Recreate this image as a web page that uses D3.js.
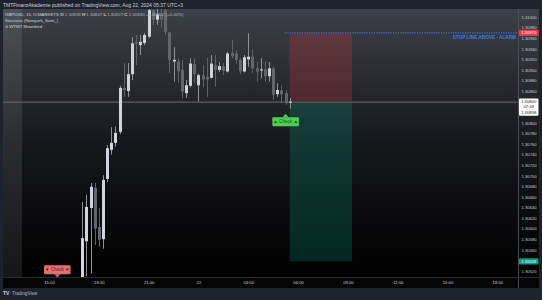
<!DOCTYPE html>
<html>
<head>
<meta charset="utf-8">
<script src="https://cdn.jsdelivr.net/npm/d3@7"></script>
<style>
  html, body { margin: 0; padding: 0; background: #1e222d; }
  svg { display: block; font-family: "Liberation Sans", Arial, sans-serif; }
</style>
</head>
<body>
<div id="chart"></div>
<script>
// 15m GBPUSD candles, first one at 21 Aug 17:00
const firstCandle = new Date(2024, 7, 21, 17, 0);
const opens  = [1.30484,1.30576,1.30639,1.30677,1.30603,1.30580,1.30694,1.30749,1.30762,1.30783,1.30866,1.30860,1.30892,1.30953,1.30947,1.30951,1.30963,1.31013,1.30995,1.31005,1.31013,1.30971,1.30916,1.30916,1.30900,1.30856,1.30870,1.30911,1.30871,1.30890,1.30887,1.30885,1.30909,1.30900,1.30907,1.30897,1.30932,1.30931,1.30919,1.30897,1.30920,1.30925,1.30903,1.30899,1.30901,1.30888,1.30903,1.30854,1.30861,1.30856,1.30838];
const highs  = [1.30650,1.30664,1.30686,1.30686,1.30639,1.30701,1.30758,1.30792,1.30793,1.30870,1.30913,1.30913,1.30962,1.30966,1.30966,1.30970,1.31020,1.31025,1.31015,1.31020,1.31020,1.30972,1.30943,1.30922,1.30919,1.30881,1.30922,1.30922,1.30893,1.30909,1.30923,1.30928,1.30928,1.30915,1.30913,1.30934,1.30957,1.30938,1.30922,1.30928,1.30969,1.30939,1.30915,1.30922,1.30916,1.30915,1.30906,1.30875,1.30871,1.30862,1.30847];
const lows   = [1.30470,1.30510,1.30515,1.30569,1.30566,1.30562,1.30688,1.30740,1.30755,1.30779,1.30849,1.30849,1.30881,1.30909,1.30928,1.30947,1.30960,1.30985,1.30985,1.30980,1.30966,1.30894,1.30878,1.30875,1.30846,1.30847,1.30867,1.30875,1.30840,1.30867,1.30849,1.30884,1.30868,1.30896,1.30890,1.30895,1.30922,1.30912,1.30892,1.30895,1.30906,1.30894,1.30878,1.30884,1.30878,1.30878,1.30844,1.30849,1.30837,1.30834,1.30827];
const closes = [1.30582,1.30641,1.30679,1.30600,1.30579,1.30692,1.30752,1.30762,1.30781,1.30866,1.30862,1.30892,1.30950,1.30950,1.30953,1.30966,1.31013,1.30995,1.31005,1.30995,1.30972,1.30919,1.30919,1.30897,1.30859,1.30871,1.30912,1.30892,1.30890,1.30882,1.30882,1.30912,1.30900,1.30907,1.30898,1.30931,1.30926,1.30919,1.30897,1.30924,1.30925,1.30903,1.30897,1.30901,1.30888,1.30903,1.30853,1.30862,1.30854,1.30837,1.30840];

const priceTicks = [1.31000,1.30980,1.30960,1.30940,1.30920,1.30900,1.30880,1.30860,1.30800,1.30780,1.30760,1.30740,1.30720,1.30700,1.30680,1.30660,1.30640,1.30620,1.30600,1.30580,1.30560,1.30520];
const timeTicks = ["2024-08-21 15:00","2024-08-21 18:00","2024-08-21 21:00","2024-08-22 00:00","2024-08-22 03:00","2024-08-22 06:00","2024-08-22 09:00","2024-08-22 12:00","2024-08-22 15:00","2024-08-22 18:00"];
const timeLabels = ["15:00","18:00","21:00","22","03:00","06:00","09:00","12:00","15:00","18:00"];

// position tool + markers
const stopPrice = 1.30970, entryPrice = 1.30840, targetPrice = 1.30538;
const positionStart = "2024-08-22 05:30", positionEnd = "2024-08-22 09:15";
const buyCheck = { time: "2024-08-22 05:15", price: 1.30834 };
const sellCheck = { time: "2024-08-21 15:30", price: 1.30506 };
const lastPrice = 1.30840, countdown = "07:49", lastLabel2 = "1.30838";

const width = 542, height = 300;
const margin = { left: 3, right: 518.5, top: 9, bottom: 277 };
const parse = d3.timeParse("%Y-%m-%d %H:%M");

const candles = opens.map((o, i) => ({
  t: d3.timeMinute.offset(firstCandle, i * 15),
  o: o, h: highs[i], l: lows[i], c: closes[i]
}));

const x = d3.scaleTime()
  .domain([parse(timeTicks[0]), parse(timeTicks[timeTicks.length - 1])])
  .range([49, 497.3]);
const y = d3.scaleLinear().domain([1.3052, 1.31]).range([270.9, 17]);

const svg = d3.select("#chart").append("svg")
  .attr("width", width).attr("height", height);

const defs = svg.append("defs");
const grad = defs.append("linearGradient").attr("id", "bg")
  .attr("x1", 0).attr("x2", 0).attr("y1", 0).attr("y2", 1);
grad.append("stop").attr("offset", "0%").attr("stop-color", "#3d4048");
grad.append("stop").attr("offset", "50%").attr("stop-color", "#17181c");
grad.append("stop").attr("offset", "100%").attr("stop-color", "#000000");
defs.append("clipPath").attr("id", "plotclip").append("rect")
  .attr("x", margin.left).attr("y", margin.top)
  .attr("width", margin.right - margin.left).attr("height", margin.bottom - margin.top);

svg.append("rect").attr("width", width).attr("height", height).attr("fill", "#1e222d");
svg.append("rect").attr("x", margin.left).attr("y", margin.top)
  .attr("width", 539 - margin.left).attr("height", margin.bottom - margin.top)
  .attr("fill", "url(#bg)");
svg.append("rect").attr("x", margin.left).attr("y", margin.bottom)
  .attr("width", 539 - margin.left).attr("height", 11).attr("fill", "#050505");

const plot = svg.append("g").attr("clip-path", "url(#plotclip)");

// session highlight on the left
plot.append("rect").attr("x", margin.left).attr("y", margin.top)
  .attr("width", 19).attr("height", margin.bottom - margin.top)
  .attr("fill", "rgba(255,255,255,0.09)");

// position boxes
const px0 = x(parse(positionStart)), px1 = x(parse(positionEnd));
plot.append("rect").attr("x", px0).attr("y", y(stopPrice))
  .attr("width", px1 - px0).attr("height", y(entryPrice) - y(stopPrice))
  .attr("fill", "rgba(242,54,69,0.22)");
plot.append("rect").attr("x", px0).attr("y", y(entryPrice) + 1)
  .attr("width", px1 - px0).attr("height", y(targetPrice) - y(entryPrice) - 1)
  .attr("fill", "rgba(8,153,129,0.24)");

// last price line
plot.append("line").attr("x1", margin.left).attr("x2", margin.right)
  .attr("y1", y(lastPrice) + 0.5).attr("y2", y(lastPrice) + 0.5)
  .attr("stroke", "#6e6a66").attr("stroke-width", 1);

// candles
const up = d => d.c >= d.o;
const cg = plot.append("g").attr("class", "candles")
  .selectAll("g").data(candles).join("g");
cg.append("line")
  .attr("x1", d => Math.round(x(d.t)) + 0.5).attr("x2", d => Math.round(x(d.t)) + 0.5)
  .attr("y1", d => y(d.h)).attr("y2", d => y(d.l))
  .attr("stroke", d => up(d) ? "#8f929b" : "#5f626c").attr("stroke-width", 1);
cg.append("rect")
  .attr("x", d => Math.round(x(d.t)) - 1)
  .attr("y", d => y(Math.max(d.o, d.c)))
  .attr("width", 3)
  .attr("height", d => Math.max(1, Math.abs(y(d.o) - y(d.c))))
  .attr("fill", d => up(d) ? "#d1d4dc" : "#63666f");

// stop line alarm
plot.append("line").attr("x1", 285).attr("x2", margin.right)
  .attr("y1", y(stopPrice)).attr("y2", y(stopPrice))
  .attr("stroke", "#3179f5").attr("stroke-width", 1.2).attr("stroke-dasharray", "1.1,1.3");
svg.append("text").attr("x", 516).attr("y", y(stopPrice) + 6.3)
  .attr("text-anchor", "end").attr("font-size", 4.7).attr("font-weight", "bold")
  .attr("fill", "#3d7ddc").text("STOP LINE ABOVE - ALARM");

// check labels
function checkLabel(sig, dir, fill, ink) {
  const cx = x(parse(sig.time));
  const g = plot.append("g");
  const w = 26.5, h = 9;
  const tip = y(sig.price) + (dir > 0 ? 9 : -1);
  const top = dir > 0 ? tip + 3.5 : tip - 3 - h;
  g.append("path")
    .attr("d", dir > 0
      ? `M${cx - 3},${top} L${cx},${tip} L${cx + 3},${top} Z`
      : `M${cx - 3},${top + h} L${cx},${tip} L${cx + 3},${top + h} Z`)
    .attr("fill", fill);
  g.append("rect").attr("x", cx - w / 2).attr("y", top).attr("width", w).attr("height", h)
    .attr("rx", 1).attr("fill", fill);
  const s = dir > 0 ? "\u25B2" : "\u25BC";
  g.append("text").attr("x", cx).attr("y", top + h / 2 + 1.6)
    .attr("text-anchor", "middle").attr("font-size", 4.6).attr("fill", ink)
    .text(s + " Check " + s);
}
checkLabel(buyCheck, 1, "#4fcf50", "#14501a");
checkLabel(sellCheck, -1, "#e46f72", "#5a1518");

// axes separators
svg.append("line").attr("x1", margin.right).attr("x2", margin.right)
  .attr("y1", margin.top).attr("y2", 288).attr("stroke", "#4a4d55");
svg.append("line").attr("x1", margin.left).attr("x2", 539)
  .attr("y1", margin.bottom + 0.5).attr("y2", margin.bottom + 0.5).attr("stroke", "#2b2b2e");

// price axis
svg.append("g").attr("transform", `translate(${margin.right},0)`)
  .call(d3.axisRight(y).tickValues(priceTicks).tickFormat(d3.format(".5f")).tickSize(0).tickPadding(3))
  .call(g => g.select(".domain").remove())
  .selectAll("text").attr("font-size", 4.2).attr("fill", "#c9ccd4").attr("font-family", "Liberation Sans, Arial, sans-serif");

// time axis
svg.append("g").attr("transform", `translate(0,${margin.bottom})`)
  .call(d3.axisBottom(x).tickValues(timeTicks.map(parse)).tickFormat((d, i) => timeLabels[i]).tickSize(0).tickPadding(4))
  .call(g => g.select(".domain").remove())
  .selectAll("text").attr("font-size", 4.2).attr("fill", "#c9ccd4").attr("font-family", "Liberation Sans, Arial, sans-serif");

// axis price labels
function axisTag(price, fill, ink, lines) {
  const h = lines.length * 5.4 + 1;
  const g = svg.append("g");
  g.append("rect").attr("x", 519).attr("y", y(price) - 3.2).attr("width", 19.5).attr("height", h)
    .attr("rx", 0.8).attr("fill", fill);
  lines.forEach((t, i) => {
    g.append("text").attr("x", 528.7).attr("y", y(price) + 1.4 + i * 5.4)
      .attr("text-anchor", "middle").attr("font-size", 4.2).attr("fill", ink).text(t);
  });
}
axisTag(stopPrice, "#f23645", "#ffffff", [d3.format(".5f")(stopPrice)]);
axisTag(lastPrice, "#ffffff", "#131722", [d3.format(".5f")(lastPrice), countdown, lastLabel2]);
axisTag(targetPrice, "#089981", "#ffffff", [d3.format(".5f")(targetPrice)]);

// header, legend, footer
svg.append("text").attr("x", 3).attr("y", 7).attr("font-size", 5).attr("fill", "#d1d4dc")
  .text("TMTFinanzAkademie published on TradingView.com, Aug 22, 2024 05:37 UTC+3");
const last = candles[candles.length - 1];
const f5 = d3.format(".5f");
const legend = svg.append("text").attr("x", 5).attr("y", 16.4).attr("font-size", 4.4).attr("fill", "#d1d4dc");
legend.append("tspan").text("GBPUSD, 15, ICMARKETS  ");
[["O", last.o], ["H", last.h], ["L", last.l], ["C", last.c]].forEach(([k, v]) => {
  legend.append("tspan").attr("font-weight", "bold").text(k + " ");
  legend.append("tspan").attr("fill", "#b2b5be").text(f5(v) + "  ");
});
legend.append("tspan").attr("fill", "#b2b5be").text("+0.00002 (+0.00%)");
svg.append("text").attr("x", 5).attr("y", 22.3).attr("font-size", 4.4).attr("fill", "#d1d4dc")
  .text("Sessions (Newyork_Sam_)");
svg.append("text").attr("x", 5).attr("y", 28.2).attr("font-size", 4.4).attr("fill", "#d1d4dc")
  .text("\u2298 WTMT Moonbird");

svg.append("text").attr("x", 3).attr("y", 295).attr("font-size", 5).attr("font-weight", "bold")
  .attr("fill", "#d1d4dc").text("TV");
svg.append("text").attr("x", 12).attr("y", 295).attr("font-size", 4.6)
  .attr("fill", "#b2b5be").text("TradingView");
</script>
</body>
</html>
